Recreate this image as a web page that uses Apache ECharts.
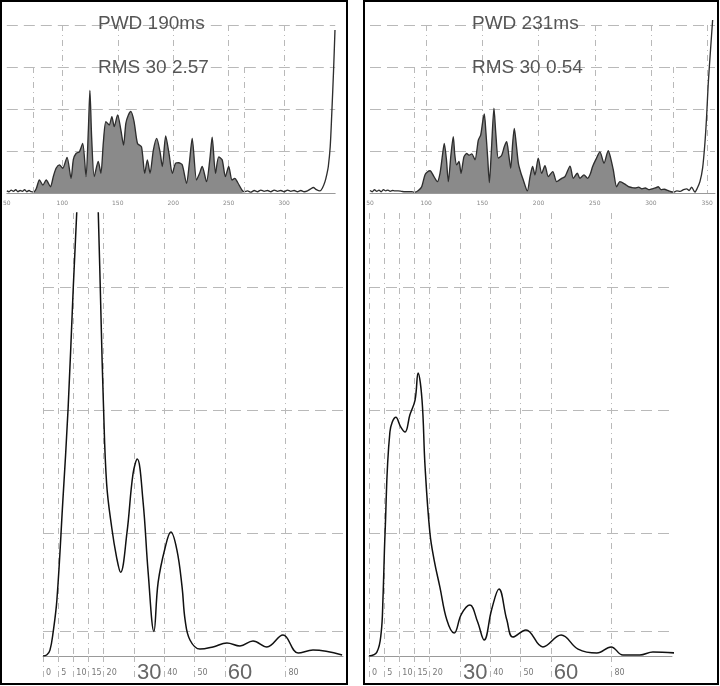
<!DOCTYPE html>
<html><head><meta charset="utf-8">
<script src="https://cdn.jsdelivr.net/npm/echarts@6/dist/echarts.min.js"></script>
<style>html,body{margin:0;padding:0;background:#fff}#c{width:720px;height:686px}</style>
</head><body><div id="c"></div>
<script>
// ---------- DATA ----------
// Top: time-domain signal (ms, amplitude)
const leftTopT = [50,52,54,56,58,60,62,64,66,68,70,72,74,76.5,79.4,82.5,85.5,89.3,92,94.4,97.4,100.4,104.3,107.9,110,112.4,115.4,118.4,121.4,123.5,124.9,126.5,128.8,132.4,134.8,137,139.3,142.3,144.7,146.8,149.9,152.8,155.2,157.3,159.5,161.8,164.7,167.8,171.4,174.3,176.7,179.1,182.1,185.1,188.1,190.2,193.2,196.2,199.2,202.2,205,208.1,212,214.5,217.1,221,223.5,226.1,230,233,235.1,238.1,241,244.1,247,250,253,255.5,258.1,262,264,267,270,273,276,279,282,285,288,291,294,297,300,303,306,309,312,315,318,321,324,326.3,329,332.3,334.5,336.8,338.5,339.8,341.5,342.8,344.5,345.8];
const leftTopV = [0.05,0.03,0.07,0.04,0.08,0.03,0.06,0.04,0.08,0.03,0.06,0.03,0.02,0.1,0.31,0.19,0.31,0.15,0.4,0.59,0.67,0.59,0.85,0.35,0.8,0.94,0.98,1.18,0.39,1.5,2.44,1.3,0.39,0.75,0.47,1.2,1.7,1.62,1.82,1.58,1.86,1.5,1.14,1.66,1.85,1.94,1.7,1.18,1.1,0.47,0.79,0.47,1.02,1.3,0.98,0.63,1.36,0.94,0.47,0.71,0.72,0.67,0.23,0.7,1.3,0.31,0.45,0.63,0.27,0.8,1.33,0.47,0.86,0.79,0.39,0.63,0.31,0.35,0.25,0.07,0.03,0.05,0.02,0.06,0.03,0.07,0.04,0.06,0.03,0.07,0.04,0.06,0.03,0.07,0.04,0.06,0.03,0.06,0.03,0.05,0.1,0.13,0.08,0.05,0.12,0.27,0.45,0.63,1.1,1.82,2.9,3.88];
const rightTopT = [50,52,54,56,58,60,62,64,66,68,70,72,75,78,81,84,87,89,90,93,96,98.9,101,103.4,106.9,109.9,112.3,114.5,116.1,118,119.7,122,124.1,125.5,127.1,129.2,131,133.6,136,138.1,140.5,143.4,146.4,148.5,150.3,151.7,153,154.8,156.2,158,160.3,162,164.2,167.2,169.5,171.6,173.5,175.2,177,178.4,180,182,184,186.4,190,192.5,194.7,196.8,199.7,202.8,205.7,208.7,212.6,216.1,220.6,223.5,228,230.9,234.5,236.8,240.4,243.7,246,248.1,251,254.6,258.2,262,264,266.5,269.5,272.4,276.9,280,283,286,289,292,295,298,301,304,306.5,309,312,315,318,320,323,326,329,331.8,334,336.2,339.1,341,343.6,346,348,349.5,351,353,354.9];
const rightTopV = [0.06,0.03,0.08,0.04,0.07,0.03,0.08,0.05,0.07,0.04,0.06,0.05,0.05,0.04,0.03,0.03,0.03,0.02,0.02,0.06,0.15,0.43,0.5,0.53,0.39,0.27,0.47,0.9,1.18,0.8,0.27,0.9,1.34,0.9,0.67,0.75,0.47,0.86,0.94,0.9,0.93,0.79,1.26,1.38,1.7,1.88,1.5,0.8,0.25,1.0,2.02,1.4,0.83,0.9,1.1,1.22,0.9,0.59,1.2,1.54,1.2,0.71,0.5,0.31,0.05,0.4,0.63,0.43,0.83,0.47,0.65,0.39,0.51,0.27,0.35,0.39,0.64,0.35,0.47,0.35,0.43,0.35,0.45,0.63,0.8,0.98,0.71,1.01,0.85,0.55,0.15,0.27,0.21,0.15,0.13,0.12,0.14,0.1,0.12,0.08,0.1,0.12,0.15,0.08,0.09,0.06,0.03,0.02,0.05,0.04,0.08,0.1,0.06,0.14,0.02,0.1,0.27,0.6,1.18,1.8,2.61,3.4,4.12];
const leftPWD = [74, 264];
const rightPWD = [89, 320];
const leftTitles = ['PWD 190ms', 'RMS 30 2.57'];
const rightTitles = ['PWD 231ms', 'RMS 30 0.54'];

// Bottom: spectrum (Hz, magnitude)
const leftSpecF = [0,1.3,2.3,3.3,4.6,6.5,8.3,10,11.2,12.5,14,15.5,17,18.2,19.2,19.9,21,22.7,24.3,25.6,27.7,29.7,31.1,33,34.7,36.6,38,40.3,42.2,44.2,45.9,46.9,48.5,51.8,56.1,60.7,65,69.3,73.9,79.2,84.2,89.1,98.7];
const leftSpecA = [0,0.05,0.24,0.93,2.3,6.2,10.1,15,18.2,22,25,25.5,22.5,18.2,13.5,10.4,7.0,5.2,4.0,3.4,5.0,7.4,8.0,6.3,3.4,1.0,3.0,4.4,5.04,4.3,2.8,1.46,0.65,0.28,0.37,0.53,0.41,0.61,0.37,0.85,0.12,0.24,0.04];
const rightSpecF = [0,2.6,4.0,4.6,5.3,6.9,8.9,10.5,11.9,13.5,15.2,16.2,17.5,18.5,20.1,21.5,23.4,25.7,28.1,30.5,33.3,35.8,38,40.5,42.9,45.5,47.5,51.8,57.4,63.4,69,75.2,79.9,83.8,89.4,93.7,101.5];
const rightSpecA = [0,0.16,0.93,2.3,5.0,9.1,9.7,9.3,9.1,9.8,10.4,11.5,10.4,7.7,5.0,3.9,2.8,1.46,0.93,1.7,2.07,1.4,0.65,1.9,2.72,1.46,0.77,1.06,0.37,0.85,0.28,0.12,0.37,0.04,0.04,0.16,0.12];
const specTicks = [0,5,10,15,20,30,40,50,60,80];
const bigTicks = [30,60];
const specLevels = [1,5,10,15];

// ---------- CHART ----------
const pair = (xs, ys) => xs.map((x, i) => [x, ys[i]]);
const windowed = (xs, ys, w) => pair(xs, ys).filter(p => p[0] >= w[0] && p[0] <= w[1]);

const gridCol = '#b9b9b9';
const vDash = [6, 4, 1, 4];
const hDash = [11, 6];

function topX(i, max) {
  return {
    gridIndex: i, type: 'value', min: 50, max: max, interval: 50,
    axisLine: {show: true, lineStyle: {color: '#9a9a9a', width: 1}},
    axisTick: {show: false},
    axisLabel: {fontSize: 6, color: '#888', margin: 7, showMaxLabel: false, fontFamily: 'DejaVu Sans'},
    splitLine: {show: true, showMinLine: false, showMaxLine: false, lineStyle: {color: gridCol, type: vDash}}
  };
}
function topY(i) {
  return {
    gridIndex: i, type: 'value', min: 0, max: 4, interval: 1,
    axisLine: {show: false}, axisTick: {show: false}, axisLabel: {show: false},
    splitLine: {show: true, showMinLine: false, lineStyle: {color: gridCol, type: hDash}}
  };
}
function botX(i, max) {
  return {
    gridIndex: i, type: 'value', min: 0, max: max,
    axisLine: {show: true, lineStyle: {color: '#999', width: 1}},
    axisTick: {show: true, customValues: specTicks, length: 22, lineStyle: {color: gridCol, type: vDash}},
    axisLabel: {
      customValues: specTicks, align: 'left', verticalAlign: 'middle', margin: 17,
      formatter: v => bigTicks.includes(v) ? '{b|' + v + '}' : '{s|' + v + '}',
      rich: {
        b: {fontSize: 22, color: '#666', fontFamily: 'Liberation Sans', padding: [0, 0, 0, 3]},
        s: {fontSize: 8, color: '#777', fontFamily: 'DejaVu Sans', padding: [0, 0, 0, 3]}
      }
    },
    splitLine: {show: true, lineStyle: {color: gridCol, type: vDash}}
  };
}
function botY(i) {
  return {
    gridIndex: i, type: 'value', min: 0, max: 18,
    axisLine: {show: false}, axisLabel: {show: false},
    axisTick: {show: false, customValues: specLevels},
    splitLine: {show: true, lineStyle: {color: gridCol, type: hDash}}
  };
}
function pwdMark(w) {
  return {
    silent: true, symbol: 'none', label: {show: false},
    lineStyle: {color: gridCol, type: vDash, width: 1},
    data: w.map(v => [{coord: [v, 0]}, {coord: [v, 3]}])
  };
}
function areaSeries(i, xs, ys, w) {
  return {type: 'line', xAxisIndex: i, yAxisIndex: i, data: windowed(xs, ys, w), smooth: 0.25,
    symbol: 'none', lineStyle: {width: 0}, areaStyle: {color: '#8a8a8a', opacity: 1}, z: 2};
}
function sigSeries(i, xs, ys, w) {
  return {type: 'line', xAxisIndex: i, yAxisIndex: i, data: pair(xs, ys), smooth: 0.25, clip: false,
    symbol: 'none', lineStyle: {color: '#2e2e2e', width: 1.35}, z: 3, markLine: pwdMark(w)};
}
function specSeries(i, xs, ys) {
  return {type: 'line', xAxisIndex: i, yAxisIndex: i, data: pair(xs, ys), smooth: 0.4, clip: true,
    symbol: 'none', lineStyle: {color: '#111', width: 1.5}, z: 3};
}
const titleFont = '19px "Liberation Sans", Arial, sans-serif';
function titleText(x, y, t) {
  return {type: 'text', left: x, top: y, z: 10, style: {text: t, font: titleFont, fill: '#555'}};
}

const option = {
  animation: false,
  backgroundColor: '#fff',
  grid: [
    {left: 5.5, top: 25, width: 329.7, height: 168},
    {left: 370, top: 25, width: 345, height: 168},
    {left: 43, top: 213, width: 300, height: 443},
    {left: 369, top: 213, width: 303, height: 443}
  ],
  xAxis: [topX(0, 346), topX(1, 357), botX(2, 99), botX(3, 100)],
  yAxis: [topY(0), topY(1), botY(2), botY(3)],
  series: [
    areaSeries(0, leftTopT, leftTopV, leftPWD),
    sigSeries(0, leftTopT, leftTopV, leftPWD),
    areaSeries(1, rightTopT, rightTopV, rightPWD),
    sigSeries(1, rightTopT, rightTopV, rightPWD),
    specSeries(2, leftSpecF, leftSpecA),
    specSeries(3, rightSpecF, rightSpecA)
  ],
  graphic: [
    {type: 'rect', shape: {x: 1, y: 1, width: 346, height: 683}, style: {fill: 'none', stroke: '#000', lineWidth: 2}, z: 20},
    {type: 'rect', shape: {x: 364, y: 1, width: 354, height: 683}, style: {fill: 'none', stroke: '#000', lineWidth: 2}, z: 20},
    titleText(98, 14, leftTitles[0]),
    titleText(98, 58, leftTitles[1]),
    titleText(472, 14, rightTitles[0]),
    titleText(472, 58, rightTitles[1])
  ]
};
const chart = echarts.init(document.getElementById('c'), null, {renderer: 'canvas'});
chart.setOption(option);
</script></body></html>
